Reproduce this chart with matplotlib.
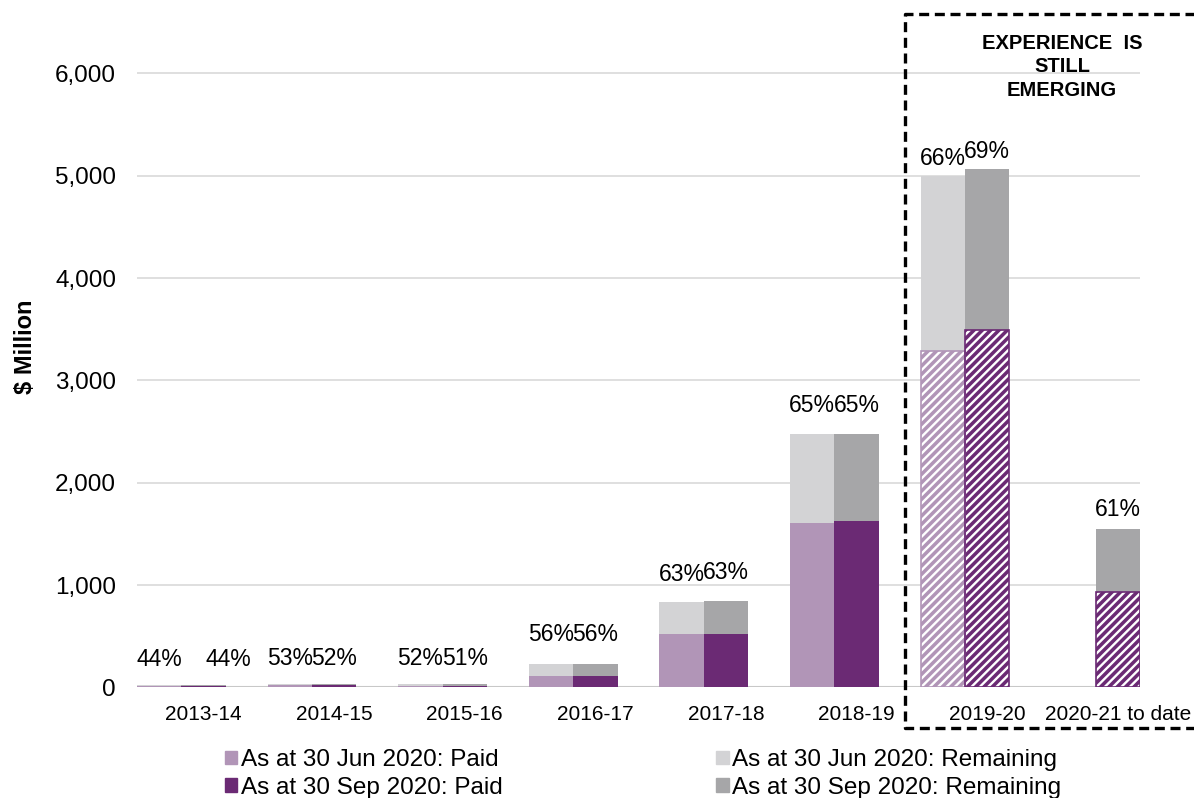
import matplotlib
matplotlib.use("Agg")
import matplotlib.pyplot as plt
import numpy as np
from matplotlib.lines import Line2D
from matplotlib.patches import Patch

plt.rcParams["font.family"] = ["Liberation Sans", "DejaVu Sans"]
plt.rcParams["hatch.linewidth"] = 1.7

# accident years and claim cost ($ million)
YEARS = ["2013-14", "2014-15", "2015-16", "2016-17", "2017-18", "2018-19",
         "2019-20", "2020-21 to date"]
JUN_TOTAL = [22, 35, 32, 225, 831, 2476, 5000, 0]
JUN_PAID = [10, 18, 16, 113, 521, 1606, 3290, 0]
SEP_TOTAL = [25, 36, 34, 225, 847, 2476, 5069, 1547]
SEP_PAID = [11, 19, 17, 113, 521, 1626, 3495, 929]
JUN_PCT = ["44%", "53%", "52%", "56%", "63%", "65%", "66%", ""]
SEP_PCT = ["44%", "52%", "51%", "56%", "63%", "65%", "69%", "61%"]
EMERGING = [False, False, False, False, False, False, True, True]

C_JUN_PAID = "#B195B7"
C_SEP_PAID = "#6B2A74"
C_JUN_REM = "#D3D3D5"
C_SEP_REM = "#A6A6A8"

W = 0.34
x = np.arange(len(YEARS))
jun_rem = np.array(JUN_TOTAL) - np.array(JUN_PAID)
sep_rem = np.array(SEP_TOTAL) - np.array(SEP_PAID)

fig = plt.figure(figsize=(11.94, 7.98), dpi=100)
ax = fig.add_axes([0.1147, 0.1387, 0.8401, 0.8333])

for i in x:
    for xc, paid, rem, cp, cr in [(i - W, JUN_PAID[i], jun_rem[i], C_JUN_PAID, C_JUN_REM),
                                  (i, SEP_PAID[i], sep_rem[i], C_SEP_PAID, C_SEP_REM)]:
        if paid + rem == 0:
            continue
        if EMERGING[i]:
            ax.bar(xc, paid, W, color=cp, edgecolor="white", hatch="////",
                   linewidth=0, zorder=3)
            ax.bar(xc, paid, W, fill=False, edgecolor=cp, linewidth=1.2,
                   zorder=4)
        else:
            ax.bar(xc, paid, W, color=cp, linewidth=0, zorder=3)
        ax.bar(xc, rem, W, bottom=paid, color=cr, linewidth=0, zorder=3)

# percentage labels (offsets in points, as placed on the original)
jun_dy = [10, 10, 10, 13, 12, 12, 4, 0]
sep_dy = [10, 10, 10, 13, 12, 12, 4, 6]
for i in x:
    if JUN_PCT[i]:
        ax.annotate(JUN_PCT[i], (i - W, JUN_TOTAL[i]), xytext=(0, jun_dy[i]),
                    textcoords="offset points", ha="center", va="bottom",
                    fontsize=16.5)
    dx = 18 if i == 0 else 0
    ax.annotate(SEP_PCT[i], (i, SEP_TOTAL[i]), xytext=(dx, sep_dy[i]),
                textcoords="offset points", ha="center", va="bottom",
                fontsize=16.5)

ax.set_xlim(-0.51, 7.17)
ax.set_ylim(0, 6500)
ax.set_yticks(range(0, 6001, 1000))
ax.set_yticklabels([f"{v:,}" for v in range(0, 6001, 1000)], fontsize=17.5)
ax.set_xticks(x)
ax.set_xticklabels(YEARS, fontsize=15)
ax.tick_params(axis="both", length=0)
ax.tick_params(axis="y", pad=15)
ax.tick_params(axis="x", pad=13)
ax.grid(axis="y", color="#D9D9D9", lw=1.2, zorder=0)
ax.axhline(0, color="#C8C8C8", lw=1.5, zorder=2)
for s in ax.spines.values():
    s.set_visible(False)
ax.set_ylabel("$ Million", fontsize=17, fontweight="bold")
ax.yaxis.set_label_coords(-0.0997, 0.512)

# dashed box around years where experience is still emerging
x0, x1 = 905 / 1194, 1.01
y0, y1 = 1 - 728 / 798, 1 - 14 / 798
fig.add_artist(Line2D([x1, x0, x0, x1], [y1, y1, y0, y0], color="black",
                      lw=2.4, linestyle=(0, (3, 1.7)),
                      transform=fig.transFigure))
fig.text(1062 / 1194, 1 - 67 / 798, "EXPERIENCE  IS\nSTILL\nEMERGING",
         ha="center", va="center", fontsize=14.5, fontweight="bold",
         linespacing=1.3)

handles = [Patch(color=C_JUN_PAID), Patch(color=C_SEP_PAID),
           Patch(color=C_JUN_REM), Patch(color=C_SEP_REM)]
labels = ["As at 30 Jun 2020: Paid", "As at 30 Sep 2020: Paid",
          "As at 30 Jun 2020: Remaining", "As at 30 Sep 2020: Remaining"]
fig.legend(handles, labels, ncol=2, loc="lower left",
           bbox_to_anchor=(208 / 1194, -0.022), frameon=False, fontsize=17.5,
           handlelength=0.5, handleheight=0.5, handletextpad=0.15,
           columnspacing=8.8, labelspacing=0.22, borderpad=0.2)

fig.savefig("out.png", dpi=100)
